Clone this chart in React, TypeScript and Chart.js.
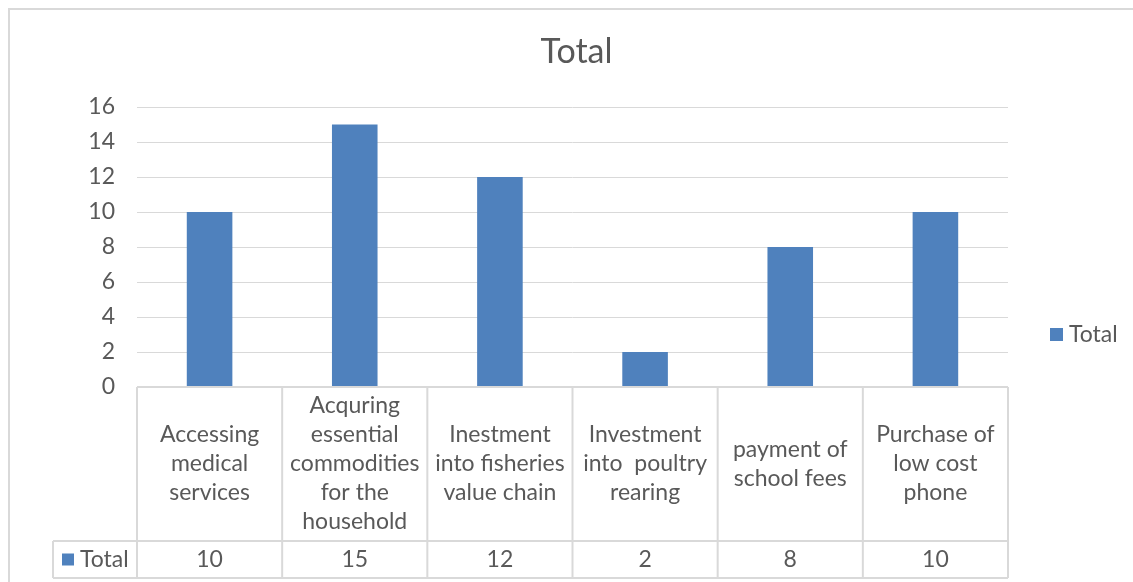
import React, { useEffect, useRef } from "react";
import { Chart, registerables } from "chart.js";

Chart.register(...registerables);

const categoryLines: string[][] = [
  ["Accessing", "medical", "services"],
  ["Acquring", "essential", "commodities", "for the", "household"],
  ["Inestment", "into fisheries", "value chain"],
  ["Investment", "into  poultry", "rearing"],
  ["payment of", "school fees"],
  ["Purchase of", "low cost", "phone"],
];
const categories = categoryLines.map((l) => l.join(" "));
const seriesName = "Total";
const totals = [10, 15, 12, 2, 8, 10];
const chartTitle = "Total";

const BAR = "#4F81BD";
const TEXT = "#595959";
const LINE = "#D9D9D9";
const FONT = "Lato, 'Open Sans', sans-serif";

const tablePlugin = {
  id: "dataTable",
  afterDraw(chart: any) {
    const ctx = chart.ctx as CanvasRenderingContext2D;
    const area = chart.chartArea;
    const xs = chart.scales.x;
    const n = categories.length;
    const cw = (area.right - area.left) / n;
    const row1Bottom = 533;
    const row2Bottom = 570;
    const leftCell = 45;
    ctx.save();
    // outer frame (top & left)
    ctx.strokeStyle = LINE;
    ctx.lineWidth = 2;
    ctx.beginPath();
    ctx.moveTo(1, chart.height);
    ctx.lineTo(1, 1);
    ctx.lineTo(chart.width, 1);
    ctx.stroke();

    // table lines
    ctx.beginPath();
    ctx.moveTo(area.left, area.bottom);
    ctx.lineTo(area.right, area.bottom);
    ctx.moveTo(leftCell, row1Bottom);
    ctx.lineTo(area.right, row1Bottom);
    ctx.moveTo(leftCell, row2Bottom);
    ctx.lineTo(area.right, row2Bottom);
    ctx.moveTo(leftCell, row1Bottom);
    ctx.lineTo(leftCell, row2Bottom);
    for (let i = 0; i <= n; i++) {
      const x = area.left + i * cw;
      ctx.moveTo(x, area.bottom);
      ctx.lineTo(x, row2Bottom);
    }
    ctx.stroke();

    ctx.fillStyle = TEXT;
    ctx.font = `23px ${FONT}`;
    ctx.textAlign = "center";
    ctx.textBaseline = "middle";
    const lh = 29;
    const midRow1 = (area.bottom + row1Bottom) / 2;
    categoryLines.forEach((lines, i) => {
      const cx = xs.getPixelForValue(i);
      const start = midRow1 - ((lines.length - 1) * lh) / 2;
      lines.forEach((t, j) => ctx.fillText(t, cx, start + j * lh));
      ctx.fillText(String(totals[i]), cx, (row1Bottom + row2Bottom) / 2);
    });

    // left legend cell
    const midRow2 = (row1Bottom + row2Bottom) / 2;
    ctx.fillStyle = BAR;
    ctx.fillRect(54, midRow2 - 6, 12, 12);
    ctx.fillStyle = TEXT;
    ctx.textAlign = "left";
    ctx.fillText(seriesName, 72, midRow2);

    // right legend
    ctx.fillStyle = BAR;
    ctx.fillRect(1042, 320, 13, 13);
    ctx.fillStyle = TEXT;
    ctx.fillText(seriesName, 1061, 327);

    // title
    ctx.font = `34px ${FONT}`;
    ctx.textAlign = "center";
    ctx.fillText(chartTitle, (area.left + area.right) / 2 + 4, 44);
    ctx.restore();
  },
};

export default function App() {
  const ref = useRef<HTMLCanvasElement>(null);
  useEffect(() => {
    if (!ref.current) return;
    const chart = new Chart(ref.current, {
      type: "bar",
      data: {
        labels: categories,
        datasets: [
          {
            label: seriesName,
            data: totals,
            backgroundColor: BAR,
            barPercentage: 0.314,
            categoryPercentage: 1,
          },
        ],
      },
      options: {
        animation: false,
        responsive: false,
        maintainAspectRatio: false,
        layout: { padding: { left: 0, right: 125, top: 99, bottom: 0 } },
        plugins: { legend: { display: false }, title: { display: false }, tooltip: { enabled: false } },
        scales: {
          x: {
            grid: { display: false },
            border: { display: false },
            ticks: { display: false },
            afterFit: (s: any) => {
              s.height = 195;
            },
          },
          y: {
            min: 0,
            max: 16,
            ticks: { stepSize: 2, color: TEXT, font: { family: FONT, size: 23 }, padding: 22 },
            grid: { color: LINE, lineWidth: 1, drawTicks: false },
            border: { display: false },
            afterFit: (s: any) => {
              s.width = 129;
            },
          },
        },
      },
      plugins: [tablePlugin],
    });
    return () => chart.destroy();
  }, []);
  return (
    <div style={{ position: "fixed", left: 0, top: 0, width: "100vw", height: "100vh", overflow: "hidden", background: "#fff" }}>
      <canvas ref={ref} width={1125} height={574} style={{ position: "absolute", left: 8, top: 8, width: 1125, height: 574 }} />
    </div>
  );
}
